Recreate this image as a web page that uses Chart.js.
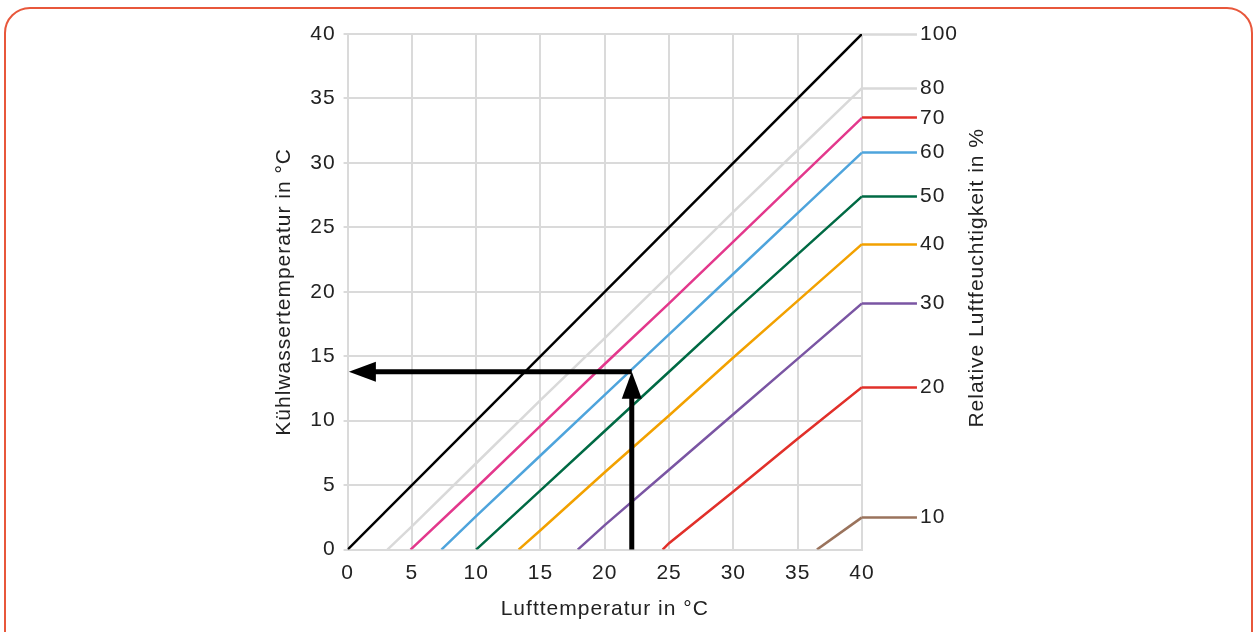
<!DOCTYPE html>
<html><head><meta charset="utf-8">
<script src="https://cdn.jsdelivr.net/npm/chart.js@4.4.0/dist/chart.umd.min.js"></script>
<style>
html,body{margin:0;padding:0;width:1257px;height:632px;overflow:hidden;background:#fff;}
#frame{position:absolute;left:4px;top:7px;width:1249px;height:720px;border:2px solid #e8573b;border-radius:26px;box-sizing:border-box;}
#wrap{position:absolute;left:0;top:0;width:1257px;height:632px;}
</style></head><body>
<div id="frame"></div>
<div id="wrap"><canvas id="c"></canvas></div>
<script>
// Data (air temperature °C, cooling water temperature °C)
const xTicks = [0, 5, 10, 15, 20, 25, 30, 35, 40];
const yTicks = [0, 5, 10, 15, 20, 25, 30, 35, 40];
const rh100 = [[0, 0], [40, 40]];
const rh80 = [[3.1, 0], [5, 1.8], [10, 6.7], [15, 11.6], [20, 16.4], [25, 21.3], [30, 26.2], [35, 31.0], [40, 35.8]];
const rh70 = [[4.9, 0], [10, 4.8], [15, 9.6], [20, 14.4], [25, 19.1], [30, 23.9], [35, 28.7], [40, 33.5]];
const rh60 = [[7.3, 0], [10, 2.6], [15, 7.3], [20, 12.0], [25, 16.7], [30, 21.4], [35, 26.1], [40, 30.8]];
const rh50 = [[10.0, 0], [15, 4.6], [20, 9.2], [25, 13.8], [30, 18.4], [35, 22.9], [40, 27.4]];
const rh40 = [[13.3, 0], [15, 1.5], [20, 6.0], [25, 10.4], [30, 14.9], [35, 19.3], [40, 23.7]];
const rh30 = [[17.9, 0], [20, 1.9], [25, 6.2], [30, 10.5], [35, 14.8], [40, 19.1]];
const rh20 = [[24.5, 0], [25, 0.5], [30, 4.5], [35, 8.6], [40, 12.6]];
const rh10 = [[36.5, 0], [40, 2.5]];
const rhLabels = ['100', '80', '70', '60', '50', '40', '30', '20', '10'];
const arrowAirTemp = 22.1;
const arrowWaterTemp = 13.8;
const arrowTipTemp = 0.1;

const xTitle = 'Lufttemperatur in °C';
const yTitle = 'Kühlwassertemperatur in °C';
const rightTitle = 'Relative Luftfeuchtigkeit in %';

const series = [rh100, rh80, rh70, rh60, rh50, rh40, rh30, rh20, rh10];
const lineColors = ['#000000', '#d9d9d9', '#e3388c', '#4ea4dc', '#006a44', '#f2a100', '#7a55a3', '#e1302a', '#9a735c'];
const legendColors = ['#d9d9d9', '#d9d9d9', '#e1302a', '#4ea4dc', '#006a44', '#f2a100', '#7a55a3', '#e1302a', '#9a735c'];

const FONT = '"Liberation Sans", Arial, sans-serif';
const FS = 21;
const TXT = '#222222';
const GRID = '#dadada';

const spacingPlugin = {
  id: 'spacing',
  beforeUpdate(chart) { chart.ctx.letterSpacing = '1px'; },
  beforeLayout(chart) { chart.ctx.letterSpacing = '1px'; },
  beforeDraw(chart) { chart.ctx.letterSpacing = '1px'; }
};

const arrowPlugin = {
  id: 'arrows',
  afterDatasetsDraw(chart) {
    const {ctx, scales: {x, y}} = chart;
    const px = x.getPixelForValue(arrowAirTemp);
    const py = y.getPixelForValue(arrowWaterTemp);
    const p0 = y.getPixelForValue(0);
    const tx = x.getPixelForValue(arrowTipTemp);
    const hl = 27, hw = 10;
    ctx.save();
    ctx.strokeStyle = '#000'; ctx.fillStyle = '#000';
    ctx.lineWidth = 5; ctx.lineCap = 'butt';
    ctx.beginPath();
    ctx.moveTo(px, p0); ctx.lineTo(px, py + hl - 2);
    ctx.moveTo(px, py); ctx.lineTo(tx + hl - 2, py);
    ctx.stroke();
    ctx.beginPath();
    ctx.moveTo(px, py); ctx.lineTo(px - hw, py + hl); ctx.lineTo(px + hw, py + hl); ctx.closePath();
    ctx.fill();
    ctx.beginPath();
    ctx.moveTo(tx, py); ctx.lineTo(tx + hl, py - hw); ctx.lineTo(tx + hl, py + hw); ctx.closePath();
    ctx.fill();
    ctx.restore();
  }
};

const rightTitlePlugin = {
  id: 'rightTitle',
  afterDraw(chart) {
    const {ctx, chartArea} = chart;
    ctx.save();
    ctx.letterSpacing = '1px';
    ctx.translate(chartArea.right + 115, (chartArea.top + chartArea.bottom) / 2 - 14);
    ctx.rotate(-Math.PI / 2);
    ctx.textAlign = 'center'; ctx.textBaseline = 'middle';
    ctx.fillStyle = TXT;
    ctx.font = FS + 'px ' + FONT;
    ctx.fillText(rightTitle, 0, 0);
    ctx.restore();
  }
};

new Chart(document.getElementById('c'), {
  type: 'scatter',
  data: {
    datasets: series.map((s, i) => ({
      label: rhLabels[i] + ' %',
      data: s,
      showLine: true,
      borderColor: lineColors[i],
      backgroundColor: lineColors[i],
      borderWidth: 2.5,
      pointRadius: 0,
      pointHoverRadius: 0,
      tension: 0
    }))
  },
  options: {
    responsive: true,
    maintainAspectRatio: false,
    animation: false,
    layout: {padding: {left: 268, right: 296, top: 34, bottom: 6}},
    plugins: {legend: {display: false}, tooltip: {enabled: false}},
    scales: {
      x: {
        type: 'linear', min: 0, max: 40,
        afterBuildTicks: (a) => { a.ticks = xTicks.map(v => ({value: v})); },
        grid: {color: GRID, lineWidth: 2, drawTicks: false},
        border: {color: GRID, width: 2},
        ticks: {color: TXT, font: {family: FONT, size: FS}, padding: 11},
        title: {display: true, text: xTitle, color: TXT, font: {family: FONT, size: FS}, padding: {top: 0, bottom: 4}}
      },
      y: {
        type: 'linear', min: 0, max: 40, position: 'left',
        afterBuildTicks: (a) => { a.ticks = yTicks.map(v => ({value: v})); },
        grid: {color: GRID, lineWidth: 2, tickLength: 4},
        border: {color: GRID, width: 2},
        ticks: {color: TXT, font: {family: FONT, size: FS}, padding: 8},
        title: {display: true, text: yTitle, color: TXT, font: {family: FONT, size: FS}, padding: {top: 4, bottom: 5}}
      },
      y2: {
        type: 'linear', min: 0, max: 40, position: 'right',
        afterBuildTicks: (a) => { a.ticks = series.map(s => ({value: s[s.length - 1][1]})); },
        grid: {drawOnChartArea: false, drawTicks: true, tickLength: 55, tickWidth: 2.5,
               tickColor: (c) => legendColors[c.index], color: (c) => legendColors[c.index]},
        border: {display: false},
        ticks: {autoSkip: false, color: TXT, font: {family: FONT, size: FS}, padding: 3,
                callback: (v, i) => rhLabels[i]}
      }
    }
  },
  plugins: [spacingPlugin, arrowPlugin, rightTitlePlugin]
});
</script>
</body></html>
